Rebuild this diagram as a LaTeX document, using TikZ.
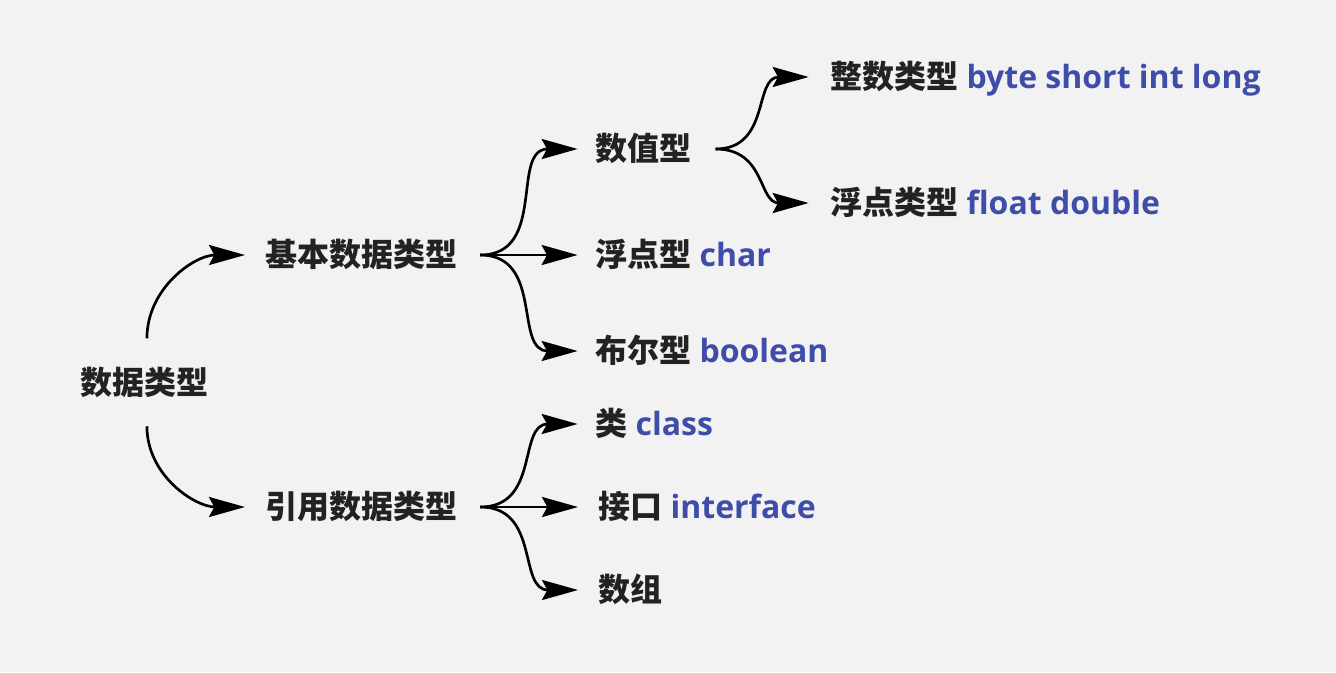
\documentclass[tikz,border=0pt]{standalone}
\usepackage{fontspec}
\setmainfont{Open Sans}
\newfontfamily\cjk{Noto Sans CJK SC}
\usetikzlibrary{arrows.meta}
\definecolor{bgcol}{HTML}{F2F2F2}
\definecolor{inkcol}{HTML}{222222}
\definecolor{keycol}{HTML}{3F4DAA}
\newcommand{\cn}[1]{{\cjk\bfseries #1}}
\newcommand{\kw}[1]{{\bfseries\color{keycol}#1}}

\begin{document}
\begin{tikzpicture}[x=0.75pt,y=0.75pt,yscale=-1,xscale=1,
  lbl/.style={anchor=west,inner sep=0pt,text=inkcol,font=\fontsize{24pt}{28pt}\selectfont,
    text height=18pt,text depth=0.5pt},
  arr/.style={-{Stealth[length=27pt,width=15pt,inset=4pt]},line width=2pt,black},
  brace/.style={arr,out=0,in=180,looseness=1.2}]
%set diagram bounds
\fill[bgcol] (0,0) rectangle (1336,672);
\useasboundingbox (0,0) rectangle (1336,672);

% Text Node
\node[lbl] (root) at (80,383) {\cn{数据类型}};
% Text Node
\node[lbl] (basic) at (265,255) {\cn{基本数据类型}};
% Text Node
\node[lbl] (ref) at (265,507) {\cn{引用数据类型}};
% Text Node
\node[lbl] (num) at (595,149) {\cn{数值型}};
% Text Node
\node[lbl] (chr) at (595,255) {\cn{浮点型} \kw{char}};
% Text Node
\node[lbl] (bool) at (595,351) {\cn{布尔型} \kw{boolean}};
% Text Node
\node[lbl] (cls) at (595,424) {\cn{类} \kw{class}};
% Text Node
\node[lbl] (itf) at (598,507) {\cn{接口} \kw{interface}};
% Text Node
\node[lbl] (arrs) at (598,590) {\cn{数组}};
% Text Node
\node[lbl] (int) at (830,77) {\cn{整数类型} \kw{byte short int long}};
% Text Node
\node[lbl] (flt) at (830,203) {\cn{浮点类型} \kw{float double}};

% Connection
\draw[arr] ([xshift=2pt,yshift=-24pt]root.north) to[out=-90,in=180] ([xshift=-15pt]basic.west);
% Connection
\draw[arr] ([xshift=2pt,yshift=23pt]root.south) to[out=90,in=180] ([xshift=-15pt]ref.west);
% Connection
\draw ([xshift=17pt]basic.east) edge[brace] ([xshift=-13pt]num.west);
% Connection
\draw[arr] ([xshift=17pt]basic.east) -- ([xshift=-13pt]chr.west);
% Connection
\draw ([xshift=17pt]basic.east) edge[brace] ([xshift=-13pt]bool.west);
% Connection
\draw ([xshift=17pt]ref.east) edge[brace] ([xshift=-13pt]cls.west);
% Connection
\draw[arr] ([xshift=17pt]ref.east) -- ([xshift=-15pt]itf.west);
% Connection
\draw ([xshift=17pt]ref.east) edge[brace] ([xshift=-15pt]arrs.west);
% Connection
\draw ([xshift=18pt]num.east) edge[brace] ([xshift=-16pt]int.west);
% Connection
\draw ([xshift=18pt]num.east) edge[brace] ([xshift=-16pt]flt.west);

\end{tikzpicture}
\end{document}
